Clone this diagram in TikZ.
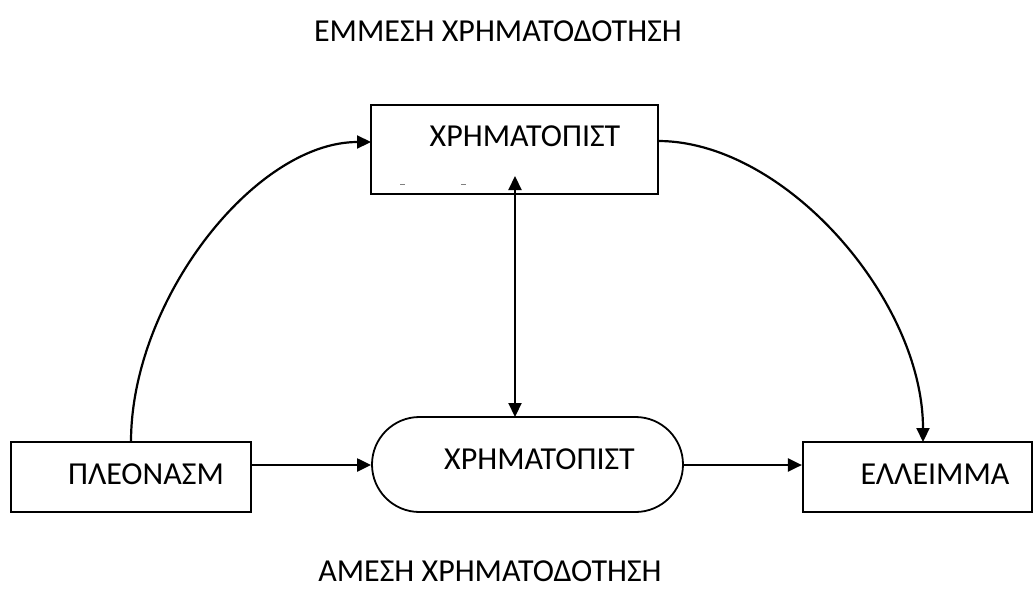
\documentclass[tikz,border=0pt]{standalone}
\usepackage{fontspec}
\setmainfont{Carlito}
\usetikzlibrary{arrows.meta,shapes.misc}
\begin{document}
\begin{tikzpicture}[x=1pt,y=-1pt,
  box/.style={draw=black,line width=2.2pt,rectangle,inner sep=0pt},
  pill/.style={draw=black,line width=1.8pt,rounded rectangle,inner sep=0pt},
  lbl/.style={font=\fontsize{32}{38}\selectfont,anchor=base,inner sep=0pt},
  conn/.style={line width=2.2pt,-{Triangle[length=14pt,width=13pt]}},
  mark2/.style={draw=gray,line width=1pt}]
\useasboundingbox[fill=white] (0,0) rectangle (1034,603);
% boxes
\node[box,minimum width=287pt,minimum height=89pt] (top) at (514.5,149.5) {};
\node[box,minimum width=240pt,minimum height=70pt] (left) at (131,477) {};
\node[pill,minimum width=311pt,minimum height=95pt] (mid) at (527.5,464.5) {};
\node[box,minimum width=229pt,minimum height=70pt] (right) at (917.5,477) {};
% texts
\node[lbl] (ttop) at (525,146) {ΧΡΗΜΑΤΟΠΙΣΤ};
\node[lbl] (tmid) at (539.5,469) {ΧΡΗΜΑΤΟΠΙΣΤ};
\node[lbl] (tleft) at (146,484) {ΠΛΕΟΝΑΣΜ};
\node[lbl] (tright) at (935,484) {ΕΛΛΕΙΜΜΑ};
\node[lbl] (title1) at (498,41) {ΕΜΜΕΣΗ ΧΡΗΜΑΤΟΔΟΤΗΣΗ};
\node[lbl] (title2) at (490,581) {ΑΜΕΣΗ ΧΡΗΜΑΤΟΔΟΤΗΣΗ};
% small marks
\coordinate (m1a) at (400,184); \coordinate (m1b) at (405,184);
\coordinate (m2a) at (461,184); \coordinate (m2b) at (466,184);
\draw[mark2] (m1a) -- (m1b);
\draw[mark2] (m2a) -- (m2b);
% connectors
\coordinate (lstart) at (131,442);
\coordinate (lend) at (371,142);
\draw[conn] (lstart) .. controls (131,300) and (255,142) .. (lend);
\coordinate (rstart) at (658,141);
\coordinate (rend) at (923,442);
\draw[conn] (rstart) .. controls (785,141) and (923,300) .. (rend);
\coordinate (vtop) at (515,176);
\coordinate (vbot) at (515,417);
\draw[line width=2.2pt,{Triangle[length=14pt,width=13pt]}-{Triangle[length=14pt,width=13pt]}] (vtop) -- (vbot);
\draw[conn] (left.east |- 0,465) -- (mid.west |- 0,465);
\draw[conn] (mid.east |- 0,465) -- (right.west |- 0,465);
\end{tikzpicture}
\end{document}
